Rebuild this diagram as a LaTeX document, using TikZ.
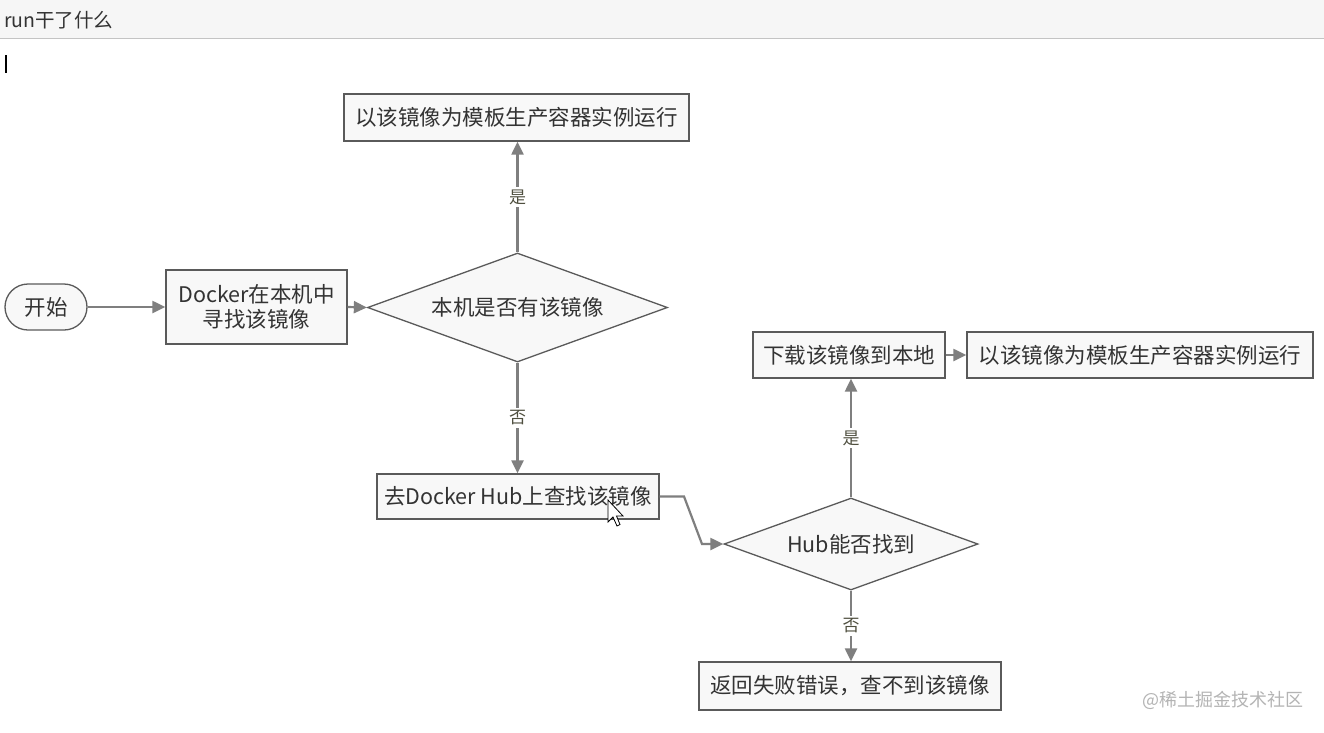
\documentclass[tikz,border=0pt]{standalone}
\usepackage{fontspec}
\newfontfamily\cjk{Noto Sans CJK SC}
\usetikzlibrary{shapes.geometric,arrows.meta}
\definecolor{linec}{HTML}{7F7F7F}
\definecolor{boxc}{HTML}{5A5A5A}
\definecolor{boxfill}{HTML}{F8F8F8}
\definecolor{txt}{HTML}{333333}
\definecolor{labc}{HTML}{4F4F3F}
\definecolor{headfill}{HTML}{F6F6F6}
\definecolor{headline}{HTML}{C4C4C4}
\definecolor{wm}{HTML}{B4B4B4}
\tikzset{
  box/.style={draw=boxc, fill=boxfill, line width=1.3pt, text=txt,
    font=\cjk\fontsize{21.5}{25}\selectfont, inner sep=0pt, align=center},
  pill/.style={box, rounded corners=23pt},
  decide/.style={diamond, draw=boxc, fill=boxfill, line width=1.3pt, text=txt,
    font=\cjk\fontsize{21.5}{25}\selectfont, inner sep=0pt, aspect=2.75},
  conn/.style={draw=linec, line width=2.2pt, -{Triangle[length=13pt,width=12pt]}},
  lab/.style={fill=white, text=labc, font=\cjk\fontsize{17}{19}\selectfont, inner sep=3pt},
}
\begin{document}
\begin{tikzpicture}[x=1pt,y=-1pt]
\useasboundingbox[fill=white] (0,0) rectangle (1324,732);
% header bar
\fill[headfill] (0,0) rectangle (1324,38);
\draw[headline, line width=1.2pt] (0,38.5) -- (1324,38.5);
\node[anchor=west, text=txt, font=\cjk\fontsize{19.5}{21}\selectfont, inner sep=0pt] (title) at (4,20) {run干了什么};
% text cursor
\draw[black, line width=1.3pt] (6,55) -- (6,73);

% nodes
\node[pill, minimum width=82pt, minimum height=46pt] (start) at (46,307) {开始};
\node[box, minimum width=181pt, minimum height=74pt] (find) at (256.5,307) {Docker在本机中\\寻找该镜像};
\node[decide, minimum width=300pt, minimum height=109pt] (d1) at (517.5,307.5) {本机是否有该镜像};
\node[box, minimum width=345pt, minimum height=47pt] (run1) at (516.5,117.5) {以该镜像为模板生产容器实例运行};
\node[box, minimum width=282pt, minimum height=45pt] (hub) at (518,496.5) {去Docker Hub上查找该镜像};
\node[decide, minimum width=254pt, minimum height=92pt] (d2) at (851,544) {Hub能否找到};
\node[box, minimum width=192pt, minimum height=46pt] (dl) at (849,355) {下载该镜像到本地};
\node[box, minimum width=346pt, minimum height=46pt] (run2) at (1140,355) {以该镜像为模板生产容器实例运行};
\node[box, minimum width=302pt, minimum height=48pt] (err) at (850,686) {返回失败错误，查不到该镜像};

% connectors
\draw[conn] (start.east) -- (find.west);
\draw[conn] (find.east) -- (d1.west);
\draw[conn] (d1.north) -- node[lab] (yes1) {是} (d1.north |- run1.south);
\draw[conn] (d1.south) -- node[lab] (no1) {否} (d1.south |- hub.north);
\coordinate (b1) at (684,496.5);
\coordinate (b2) at (702,544);
\draw[conn] (hub.east) -- (b1) -- (b2) -- (d2.west);
\draw[conn] (d2.north) -- node[lab] (yes2) {是} (d2.north |- dl.south);
\draw[conn] (dl.east) -- (run2.west);
\draw[conn] (d2.south) -- node[lab] (no2) {否} (d2.south |- err.north);

% mouse pointer
\draw[black, fill=white, line width=0.8pt, line join=miter]
  (608,500) -- (608,522) -- (613,517) -- (617,526) -- (620,524.5) -- (616.5,516) -- (623,516) -- cycle;

% watermark
\node[anchor=east, text=wm, font=\cjk\fontsize{18}{20}\selectfont, inner sep=0pt] (mark) at (1304,700) {@稀土掘金技术社区};
\end{tikzpicture}
\end{document}
